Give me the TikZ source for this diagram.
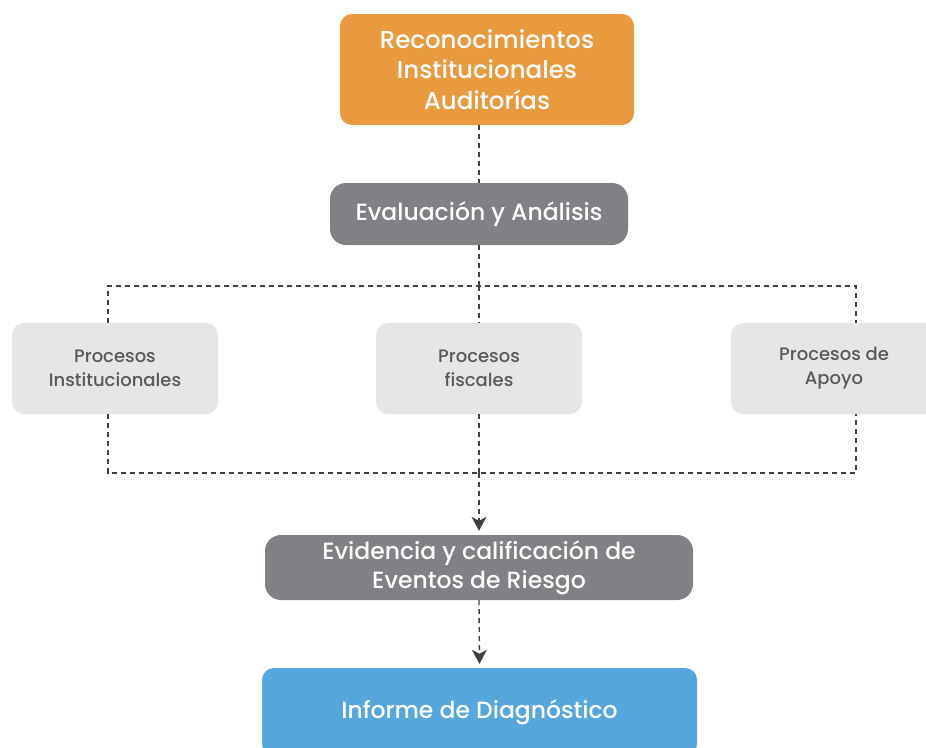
\documentclass[tikz,border=0pt]{standalone}
\usepackage{fontspec}
\setmainfont{Poppins}[BoldFont={Poppins Medium}]
\usepackage{xcolor}
\usetikzlibrary{positioning,arrows.meta}
\definecolor{naranja}{HTML}{E99A3F}
\definecolor{grisosc}{HTML}{808184}
\definecolor{grisclaro}{HTML}{E6E6E6}
\definecolor{azul}{HTML}{55A7DD}
\definecolor{linea}{HTML}{404040}
\definecolor{textogris}{HTML}{58595B}

\begin{document}
\begin{tikzpicture}[x=1pt,y=-1pt,
    caja/.style={rounded corners=12pt,align=center,inner sep=0pt,text=white,font=\fontsize{23.5}{29.5}\selectfont\bfseries},
    proceso/.style={caja,fill=grisclaro,minimum width=206pt,minimum height=91pt,text=textogris,font=\fontsize{18}{24}\selectfont\bfseries},
    conector/.style={draw=linea,line width=1.4pt,dash pattern=on 5pt off 4pt},
    flecha/.style={conector,-{Stealth[length=14pt,width=15pt,inset=4pt]},shorten >=4pt}]
    \useasboundingbox (0,0) rectangle (926,747);

    % The boxes
	\node [caja,fill=naranja,minimum width=294pt,minimum height=111pt,font=\fontsize{24.5}{30.5}\selectfont\bfseries] at (487,69.5) (recon) {Reconocimientos\\Institucionales\\Auditorías};
	\node [caja,fill=grisosc,minimum width=298pt,minimum height=62pt,rounded corners=16pt] at (479,214) (eval) {Evaluación y Análisis};
	\node [proceso] at (115,368.5) (inst) {Procesos\\Institucionales};
	\node [proceso] at (479,368.5) (fisc) {Procesos\\fiscales};
	\node [proceso] at (834,368.5) (apoyo) {Procesos de\\Apoyo};
	\node [caja,fill=grisosc,minimum width=428pt,minimum height=65pt,rounded corners=16pt] at (479,567.5) (evid) {Evidencia y calificación de\\Eventos de Riesgo};
	\node [caja,fill=azul,minimum width=435pt,minimum height=88pt] at (479.5,712) (diag) {Informe de Diagnóstico};

	% Frame corners
	\coordinate (ftl) at (108,286);
	\coordinate (ftr) at (856,286);
	\coordinate (fbl) at (108,473);
	\coordinate (fbr) at (856,473);
	\coordinate (ftop) at (479,286);
	\coordinate (fbot) at (479,473);

	% Connectors
	\draw[conector] (recon.south -| eval.north) -- (eval.north);
	\draw[conector] (eval.south) -- (ftop);
	\draw[conector] (inst.north -| ftl) -- (ftl) -- (ftr) -- (apoyo.north -| ftr);
	\draw[conector] (ftop) -- (fisc.north);
	\draw[conector] (inst.south -| fbl) -- (fbl) -- (fbr) -- (apoyo.south -| fbr);
	\draw[conector] (fisc.south) -- (fbot);

	% Arrows
	\draw[flecha] (fbot) -- (evid.north);
	\draw[flecha] (evid.south) -- (diag.north);

\end{tikzpicture}
\end{document}
